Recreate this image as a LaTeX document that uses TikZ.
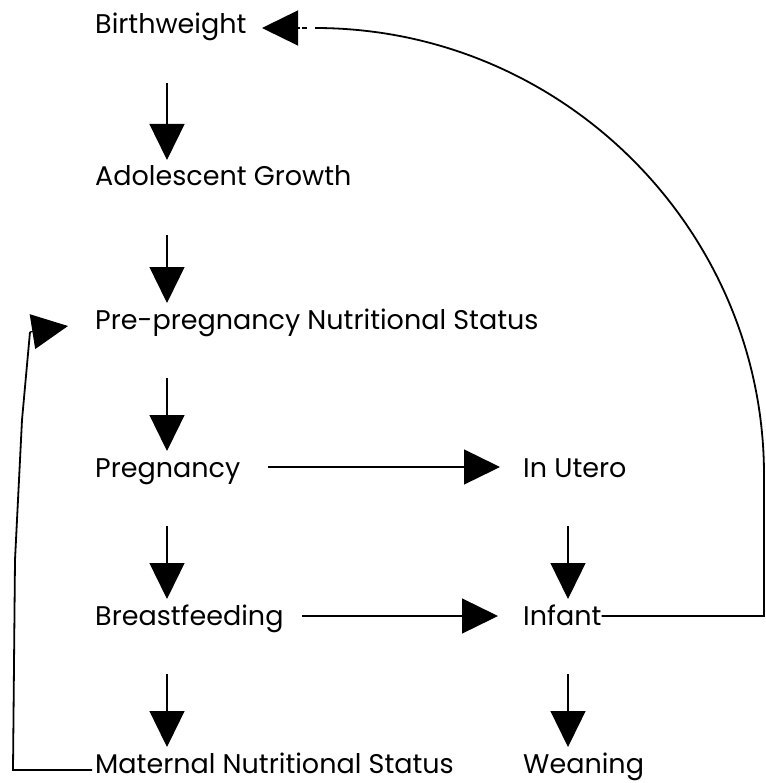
\documentclass[tikz,border=0pt]{standalone}
\usepackage{fontspec}
\setmainfont{Poppins}
\usetikzlibrary{arrows.meta,calc}
\begin{document}
\begin{tikzpicture}[x=1pt,y=-1pt,
  lbl/.style={anchor=base west, inner sep=0pt, text height=19pt, text depth=0pt,
              font=\fontsize{27}{30}\selectfont},
  arr/.style={line width=1.3pt, -{Triangle[length=36pt,width=35pt]}},
  ln/.style={line width=1.3pt},
  fb/.style={line width=1.8pt}]
\useasboundingbox (0,0) rectangle (765,783);
% column 1
\node[lbl] (bw)   at (95,34)  {Birthweight};
\node[lbl] (ado)  at (95,186) {Adolescent Growth};
\node[lbl] (pre)  at (95,329) {Pre-pregnancy Nutritional Status};
\node[lbl] (preg) at (95,477) {Pregnancy};
\node[lbl] (bf)   at (95,625) {Breastfeeding};
\node[lbl] (mat)  at (95,773) {Maternal Nutritional Status};
% column 2
\node[lbl] (ute)  at (523,477) {In Utero};
\node[lbl] (inf)  at (523,625) {Infant};
\node[lbl] (wean) at (523,773) {Weaning};
% vertical arrows, column 1
\draw[arr] ($(bw.base west)+(72,49)$)   -- ($(ado.base west)+(72,-26)$);
\draw[arr] ($(ado.base west)+(72,49)$)  -- ($(pre.base west)+(72,-26)$);
\draw[arr] ($(pre.base west)+(72,49)$)  -- ($(preg.base west)+(72,-26)$);
\draw[arr] ($(preg.base west)+(72,49)$) -- ($(bf.base west)+(72,-26)$);
\draw[arr] ($(bf.base west)+(72,49)$)   -- ($(mat.base west)+(72,-26)$);
% vertical arrows, column 2
\draw[arr] ($(ute.base west)+(45,49)$)  -- ($(inf.base west)+(45,-26)$);
\draw[arr] ($(inf.base west)+(45,49)$)  -- ($(wean.base west)+(45,-26)$);
% horizontal arrows
\draw[arr] ($(preg.base west)+(173,-10)$) -- ($(ute.base west)+(-23,-10)$);
\draw[arr] ($(bf.base west)+(207,-9)$)    -- ($(inf.base west)+(-25,-9)$);
% feedback: Infant to Birthweight
\coordinate (edgeB) at (764,616);
\coordinate (edgeT) at (764,475);
\coordinate (arcE)  at (315,28);
\coordinate (dashA) at (307,28);
\coordinate (dashB) at (302,28);
\coordinate (bwArr) at (300,28);
\coordinate (bwTip) at (262,28);
\draw[fb] (inf.east |- edgeB) -- (edgeB) -- (edgeT)
  .. controls (764,230) and (563,28) .. (arcE);
\draw[fb] (dashA) -- (dashB);
\draw[arr] (bwArr) -- (bwTip);
% feedback: Maternal to Pre-pregnancy
\coordinate (l0) at (13,770);
\coordinate (l1) at (15,560);
\coordinate (l2) at (22,420);
\coordinate (l3) at (30,332);
\coordinate (preTip) at (68,326);
\draw[fb] ($(mat.base west)+(-3,-3)$) -- (l0) -- (l1) -- (l2) -- (l3);
\draw[arr] (l3) -- (preTip);
\end{tikzpicture}
\end{document}
